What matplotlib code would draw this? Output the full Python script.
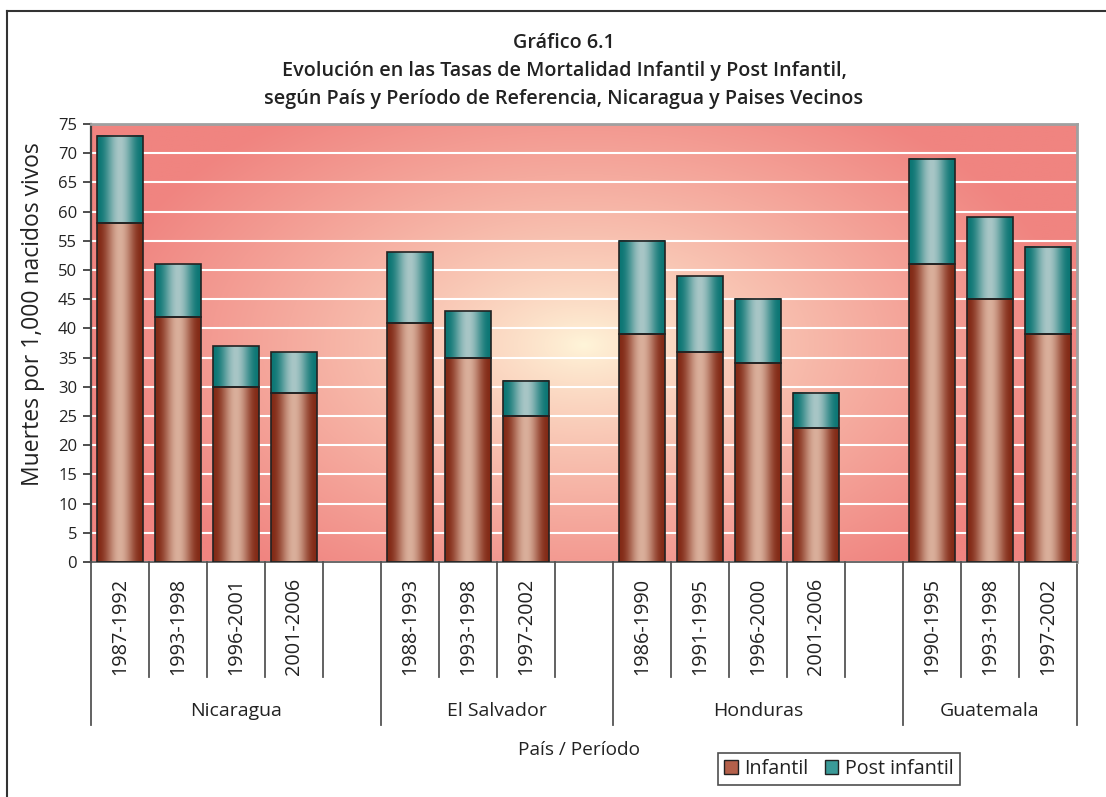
import numpy as np
import matplotlib
matplotlib.use("Agg")
import matplotlib.pyplot as plt
from matplotlib.patches import Rectangle
from matplotlib.transforms import blended_transform_factory

plt.rcParams['font.family'] = ['Open Sans', 'DejaVu Sans']

# ---------------- data ----------------
countries = ["Nicaragua", "El Salvador", "Honduras", "Guatemala"]
periods = [
    ["1987-1992", "1993-1998", "1996-2001", "2001-2006"],
    ["1988-1993", "1993-1998", "1997-2002"],
    ["1986-1990", "1991-1995", "1996-2000", "2001-2006"],
    ["1990-1995", "1993-1998", "1997-2002"],
]
infantil = [
    [58, 42, 30, 29],
    [41, 35, 25],
    [39, 36, 34, 23],
    [51, 45, 39],
]
post_infantil = [
    [15, 9, 7, 7],
    [12, 8, 6],
    [16, 13, 11, 6],
    [18, 14, 15],
]
yticks = list(range(0, 80, 5))

title_lines = ["Gráfico 6.1",
               "Evolución en las Tasas de Mortalidad Infantil y Post Infantil,",
               "según País y Período de Referencia, Nicaragua y Paises Vecinos"]
ylabel = "Muertes por 1,000 nacidos vivos"
xlabel = "País / Período"
series_names = ["Infantil", "Post infantil"]

# ---------------- figure ----------------
W, H = 1106, 797
fig = plt.figure(figsize=(W / 100, H / 100), dpi=100)
fig.patch.set_facecolor("white")

def fx(px):
    return px / W

def fy(py):
    return 1 - py / H

TXT = '#222222'
ax_l, ax_r, ax_t, ax_b = 91, 1077, 124, 562
ax = fig.add_axes([fx(ax_l), fy(ax_b), fx(ax_r) - fx(ax_l), fy(ax_t) - fy(ax_b)])
ax.set_facecolor("none")

# slot layout: periods + one blank between countries
slots = []
pos = 0
group_spans = []
for gi, per in enumerate(periods):
    start = pos
    for pi in range(len(per)):
        slots.append((gi, pi, pos + 0.5))
        pos += 1
    if gi < len(periods) - 1:
        pos += 1  # blank slot
    group_spans.append((start, pos))
n_slots = pos

# background radial gradient
nx, ny = 400, 200
xs = np.linspace(ax_l, ax_r, nx)
ys = np.linspace(ax_t, ax_b, ny)
XX, YY = np.meshgrid(xs, ys)
cx, cy = 584, 345
r = np.sqrt(((XX - cx) / 520.0) ** 2 + ((YY - cy) / 300.0) ** 2)
t = np.clip(r / 0.95, 0, 1) ** 0.8
c_center = np.array([255, 246, 218]) / 255
c_edge = np.array([240, 132, 128]) / 255
bg = c_center[None, None, :] * (1 - t[..., None]) + c_edge[None, None, :] * t[..., None]
ax.imshow(bg, extent=[0, n_slots, 0, 75], aspect='auto', zorder=0, origin='upper',
          interpolation='bilinear')

# bars with cylindrical shading
bar_w = 0.79
prof = np.linspace(0, 1, 64)
shade = np.sin(np.pi * prof) ** 2.2

def grad(dark, light):
    dark = np.array(dark) / 255
    light = np.array(light) / 255
    g = dark[None, :] * (1 - shade[:, None]) + light[None, :] * shade[:, None]
    return g[None, :, :]

g_inf = grad((130, 42, 22), (218, 175, 155))
g_post = grad((12, 118, 116), (168, 198, 198))

xpos = [s[2] for s in slots]
inf_vals = [infantil[g][p] for g, p, _ in slots]
post_vals = [post_infantil[g][p] for g, p, _ in slots]

b1 = ax.bar(xpos, inf_vals, width=bar_w, facecolor='none', edgecolor='#222222',
            linewidth=1.2, zorder=3)
b2 = ax.bar(xpos, post_vals, bottom=inf_vals, width=bar_w, facecolor='none',
            edgecolor='#222222', linewidth=1.2, zorder=3)
for bars, g in ((b1, g_inf), (b2, g_post)):
    for p in bars:
        x0, y0 = p.get_x(), p.get_y()
        ax.imshow(g, extent=[x0, x0 + p.get_width(), y0, y0 + p.get_height()],
                  aspect='auto', zorder=2, interpolation='bilinear')

ax.set_xlim(0, n_slots)
ax.set_ylim(0, 75)
ax.set_yticks(yticks)
ax.set_xticks([])
ax.yaxis.grid(True, color='white', linewidth=1.5)
ax.set_axisbelow(True)
ax.tick_params(axis='y', direction='out', length=6, width=1.3, color='#404040',
               labelsize=12, labelcolor=TXT, pad=4)

for s in ('top', 'right'):
    ax.spines[s].set_color('#a0a0a0')
    ax.spines[s].set_linewidth(2)
ax.spines['left'].set_color('#404040')
ax.spines['left'].set_linewidth(1.6)
ax.spines['bottom'].set_color('#505050')
ax.spines['bottom'].set_linewidth(1.2)

# multi-level category axis
trans = blended_transform_factory(ax.transData, fig.transFigure)
y_axis = fy(ax_b)
y_short = fy(677)
y_long = fy(725)
group_edges = set()
for (st, en) in group_spans:
    group_edges.add(st)
    group_edges.add(en)
for b in range(n_slots + 1):
    yb = y_long if b in group_edges else y_short
    ax.plot([b, b], [y_axis, yb], transform=trans, color='#555555', lw=1.3,
            clip_on=False, zorder=1)

for gi, pi, xc in slots:
    ax.text(xc, fy(578), periods[gi][pi], transform=trans, rotation=90,
            ha='center', va='top', fontsize=14.3, color=TXT)

for gi, (st, en) in enumerate(group_spans):
    ax.text((st + en) / 2, fy(711), countries[gi], transform=trans, ha='center',
            va='center', fontsize=14, color=TXT)

# titles
for ty, line in zip((43, 71, 99), title_lines):
    fig.text(fx(564), fy(ty), line, ha='center', va='center', fontsize=14.2,
             fontweight='semibold', color=TXT)

fig.text(fx(33), fy(314), ylabel, rotation=90, ha='center', va='center', fontsize=16.5,
         color=TXT)
fig.text(fx(579), fy(750), xlabel, ha='center', va='center', fontsize=13.7, color=TXT)

# legend
handles = [Rectangle((0, 0), 1, 1, facecolor='#b4604a', edgecolor='#222222', lw=1),
           Rectangle((0, 0), 1, 1, facecolor='#3a9a98', edgecolor='#222222', lw=1)]
leg = fig.legend(handles, series_names, loc='center', bbox_to_anchor=(fx(839), fy(769)),
                 ncol=2, frameon=True, fancybox=False, fontsize=14.2, handlelength=0.7,
                 handleheight=0.7, handletextpad=0.35, columnspacing=0.8,
                 borderpad=0.3, labelcolor=TXT)
leg.get_frame().set_edgecolor('#222222')
leg.get_frame().set_linewidth(1.2)

# outer frame (top and left visible)
fig.add_artist(plt.Line2D([fx(7), 1.0], [fy(11), fy(11)], transform=fig.transFigure,
                          color='#333333', lw=1.5))
fig.add_artist(plt.Line2D([fx(7), fx(7)], [fy(11), 0.0], transform=fig.transFigure,
                          color='#333333', lw=1.5))

fig.savefig("out.png", dpi=100)
